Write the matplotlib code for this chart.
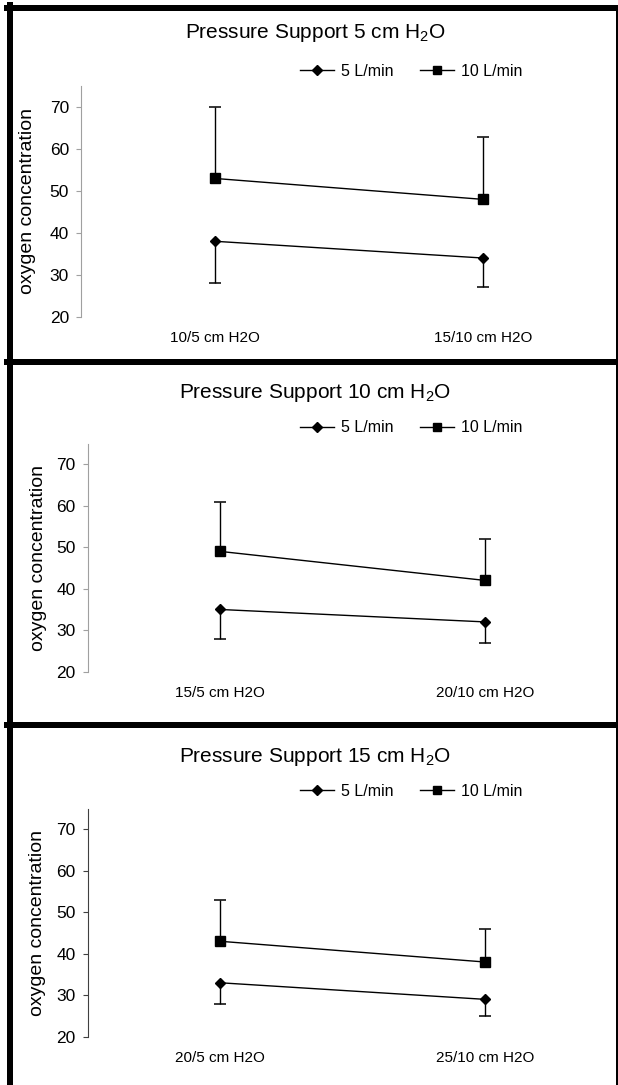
import numpy as np
import matplotlib
matplotlib.use("Agg")
import matplotlib.pyplot as plt
from matplotlib.lines import Line2D

plt.rcParams['font.family'] = ['Liberation Sans', 'DejaVu Sans']
plt.rcParams['mathtext.fontset'] = 'custom'
plt.rcParams['mathtext.rm'] = 'Liberation Sans'
plt.rcParams['mathtext.it'] = 'Liberation Sans:italic'
plt.rcParams['mathtext.bf'] = 'Liberation Sans:bold'

W, H = 618, 1085

# data
titles = ["Pressure Support 5 cm H$_2$O",
          "Pressure Support 10 cm H$_2$O",
          "Pressure Support 15 cm H$_2$O"]
settings = [["10/5 cm H2O", "15/10 cm H2O"],
            ["15/5 cm H2O", "20/10 cm H2O"],
            ["20/5 cm H2O", "25/10 cm H2O"]]
flow5_mean = [[38, 34], [35, 32], [33, 29]]
flow5_err_down = [[10, 7], [7, 5], [5, 4]]
flow10_mean = [[53, 48], [49, 42], [43, 38]]
flow10_err_up = [[17, 15], [12, 10], [10, 8]]
series_labels = ["5 L/min", "10 L/min"]
yticks = [20, 30, 40, 50, 60, 70]

# layout in pixels: axes left, bottom, top, title y, legend y, ylabel x, spine colour
layout = [
    (81.0, 316.7, 86.3, 33, 71, 27.5, "#a0a0a0"),
    (87.5, 671.7, 443.5, 393, 428, 39.0, "#a0a0a0"),
    (87.5, 1036.7, 808.5, 757, 791, 37.5, "#404040"),
]
ax_right = 617.5


def fx(x):
    return x / W


def fy(y):
    return 1 - y / H


fig = plt.figure(figsize=(W / 100, H / 100), dpi=100)

cap_pt = 4.4
for i in range(3):
    left, bottom, top, ty, ly, labx, spc = layout[i]
    ax = fig.add_axes([fx(left), fy(bottom), fx(ax_right - left), (bottom - top) / H])
    x = np.arange(2)
    m5 = np.array(flow5_mean[i])
    e5 = np.array(flow5_err_down[i])
    m10 = np.array(flow10_mean[i])
    e10 = np.array(flow10_err_up[i])

    # one-sided error bars
    ax.vlines(x, m5 - e5, m5, color='black', lw=1.0, zorder=2)
    ax.plot(x, m5 - e5, ls='none', marker='_', ms=2 * cap_pt, mew=1.1, color='black', zorder=2)
    ax.vlines(x, m10, m10 + e10, color='black', lw=1.0, zorder=2)
    ax.plot(x, m10 + e10, ls='none', marker='_', ms=2 * cap_pt, mew=1.1, color='black', zorder=2)

    ax.plot(x, m5, '-', marker='D', ms=4.8, color='black', lw=1.0, zorder=3)
    ax.plot(x, m10, '-', marker='s', ms=6.5, color='black', lw=1.0, zorder=3)

    ax.set_xlim(-0.5, 1.5)
    ax.set_ylim(20, 75)
    ax.set_yticks(yticks)
    ax.set_xticks(x)
    ax.set_xticklabels(settings[i], fontsize=11)
    ax.tick_params(axis='x', length=0, pad=10.5)
    ax.tick_params(axis='y', direction='out', length=3.6, width=0.8, color=spc,
                   labelsize=12.5, pad=5)
    for s in ['top', 'right', 'bottom']:
        ax.spines[s].set_visible(False)
    ax.spines['left'].set_color(spc)
    ax.spines['left'].set_linewidth(0.8)
    ax.patch.set_alpha(0)

    fig.text(fx(315), fy(ty), titles[i], ha='center', va='center', fontsize=15)
    fig.text(fx(labx), fy((top + bottom) / 2), "oxygen concentration", rotation=90,
             ha='center', va='center', fontsize=14)

    handles = [Line2D([], [], color='black', lw=1.0, marker='D', ms=4.8),
               Line2D([], [], color='black', lw=1.0, marker='s', ms=6.0)]
    fig.legend(handles, series_labels, loc='center left', ncol=2, frameon=False,
               bbox_to_anchor=(fx(300), fy(ly)), borderpad=0, borderaxespad=0,
               handlelength=2.1, handletextpad=0.45, columnspacing=1.7, fontsize=11.5)

# panel borders
bw = 6 * 72 / 100
fig.add_artist(Line2D([fx(10), fx(10)], [fy(5), fy(1085)], color='black', lw=bw))
for yb in [8, 361.5, 724.5]:
    fig.add_artist(Line2D([fx(7), fx(618)], [fy(yb), fy(yb)], color='black', lw=bw))
fig.add_artist(Line2D([fx(616.5), fx(616.5)], [fy(8), fy(1085)], color='black', lw=3 * 72 / 100))

fig.savefig("out.png", dpi=100)
